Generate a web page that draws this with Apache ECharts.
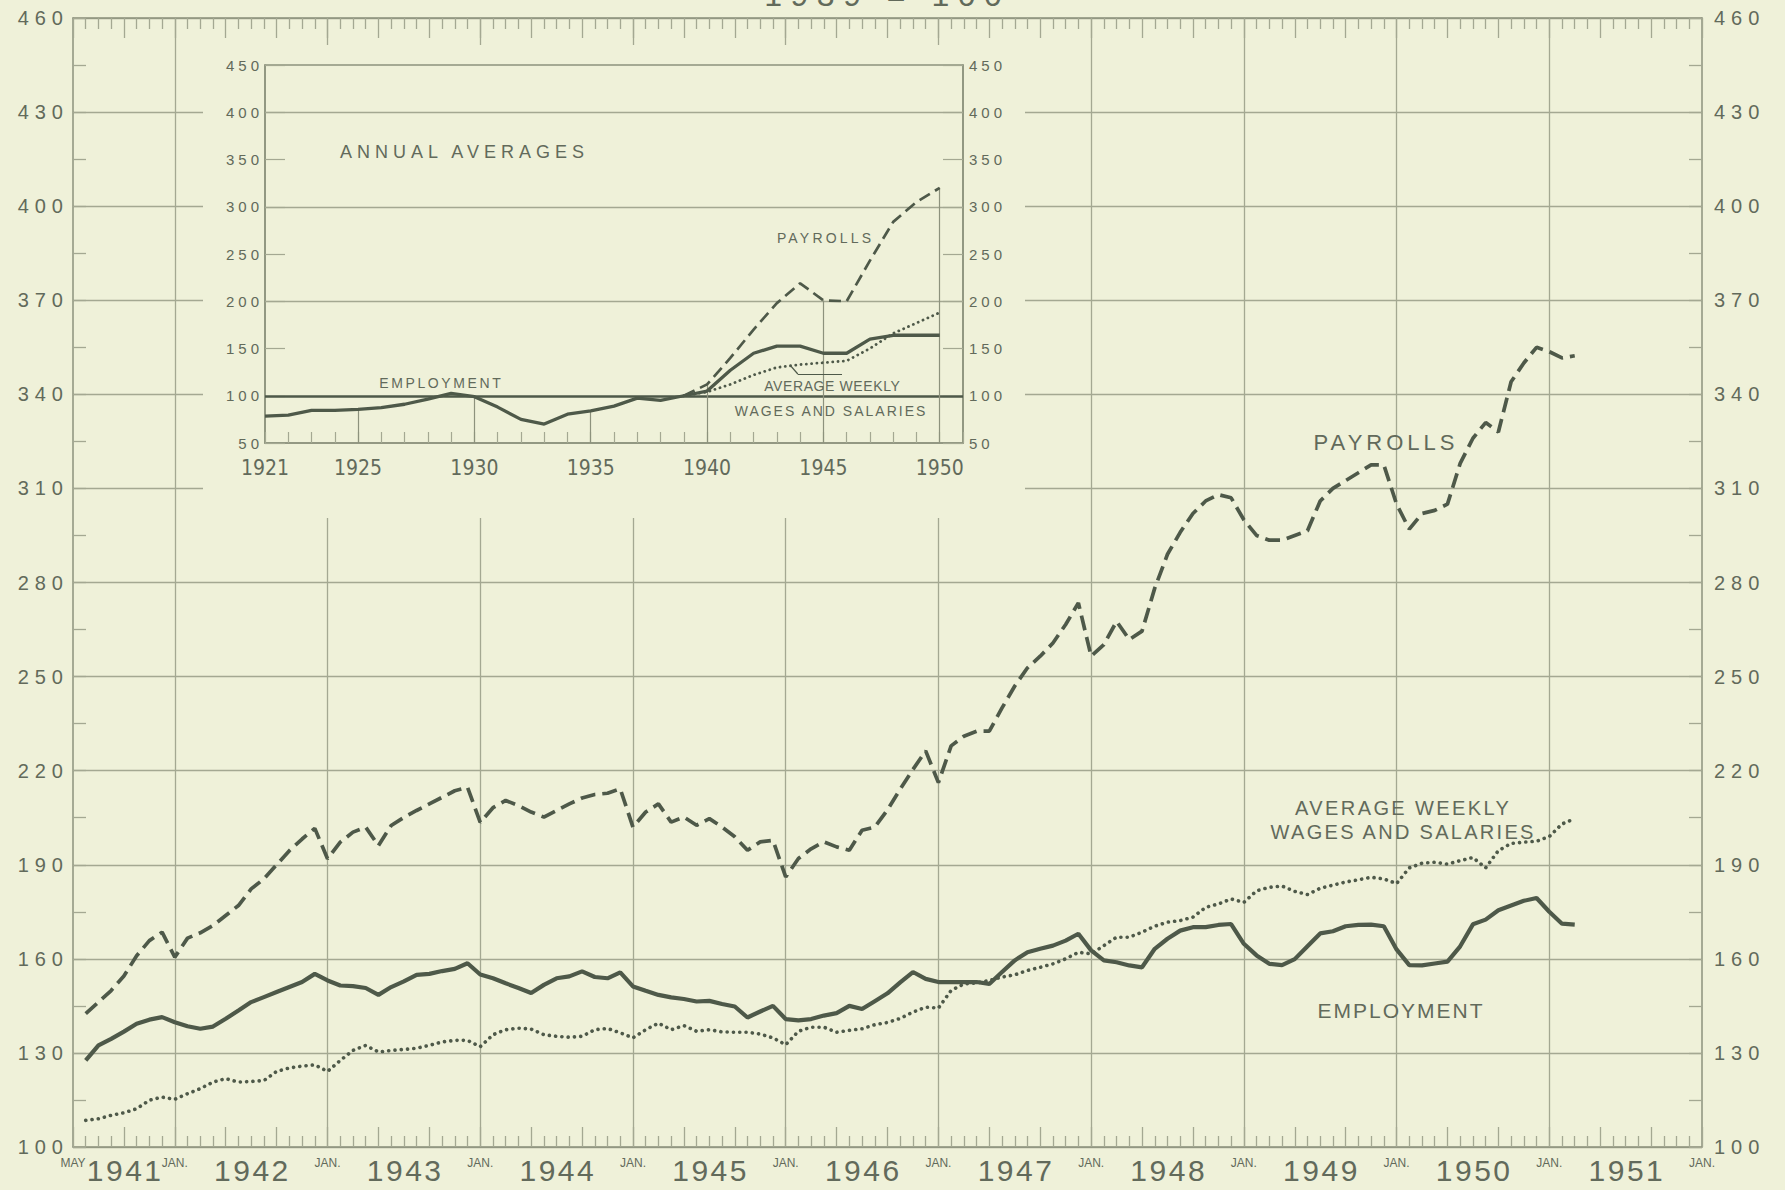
<!DOCTYPE html>
<html>
<head>
<meta charset="utf-8">
<title>Employment, Payrolls and Average Weekly Wages and Salaries (1939 = 100)</title>
<script src="https://cdn.jsdelivr.net/npm/echarts@6.0.0/dist/echarts.min.js"></script>
<style>
html,body{margin:0;padding:0;background:#eff1d9;}
#main{width:1785px;height:1190px;}
</style>
</head>
<body>
<div id="main"></div>
<script>
// ================= DATA =================
// Monthly index numbers, 1939 = 100.
// x position = months since Jan 1941; the first observation is June 1941.
const firstMonth = 5;

const payrolls = [
  142.5,146.2,149.9,154.5,161,165.8,168.5,160.5,
  166.6,168.3,170.6,173.8,177,182.3,185.5,190,194.5,198.2,201.6,191.9,
  197.2,200.4,202,196.1,202.5,205.1,207.3,209.4,211.5,213.6,214.7,203.5,
  208.2,210.5,208.9,206.8,205.2,207.3,209.4,211.3,212.4,212.8,214.2,202,
  206.8,209.4,203.6,205.2,202.6,204.7,202,198.9,194.6,197.3,197.8,186.1,
  192,195.1,197.3,195.7,194.6,201,202,207.5,214.1,220.4,226.3,216.2,
  227.9,231,232.6,232.6,240,247,252.8,256.5,260.7,266.6,273.5,256.5,
  260.2,267.6,261.8,264.5,278.2,289,296,302,306,308,307,300,
  295,293.5,293.5,295,296.5,306,310,312.5,315,317.5,317.5,305,
  297,302,303,305,318,326,331,328,344,350,355,353.6,
  351.6,352.3
];

const employment = [
  127.6,132.4,134.5,136.8,139.3,140.6,141.4,139.8,
  138.5,137.7,138.4,140.9,143.5,146.2,147.8,149.4,151,152.6,155.2,153.1,
  151.5,151.3,150.7,148.5,151,152.8,154.9,155.2,156.1,156.8,158.6,155,
  153.8,152.2,150.7,149.1,151.7,153.8,154.4,156,154.2,153.8,155.7,151.2,
  149.8,148.5,147.7,147.2,146.4,146.6,145.6,144.8,141.3,143.2,145,140.8,
  140.4,140.8,141.9,142.7,145,144,146.5,149,152.5,155.8,153.6,152.6,
  152.6,152.6,152.6,152,155.8,159.5,162.1,163.2,164.2,165.8,168,162.7,
  159.5,158.9,157.9,157.3,163.2,166.4,169,170.1,170.1,170.8,171.1,164.8,
  161.1,158.4,158,159.9,164,168.1,168.8,170.4,170.8,170.9,170.4,163,
  158,157.9,158.5,159.1,164,171,172.5,175.5,177,178.5,179.4,175,
  171.2,170.9
];

const avgWeeklyWages = [
  108.5,109,110.1,110.9,112.2,114.9,115.9,115.2,
  117,118.6,120.7,121.8,120.7,120.9,121.2,124.1,125.2,125.8,126.2,124.1,
  127.6,130.8,132.4,130.3,130.8,131.1,131.5,132.4,133.5,134,134,132,
  135.8,137.4,137.9,137.6,135.8,135.3,135,135.3,137.4,137.8,136.4,134.8,
  137.4,139.5,137.4,138.7,136.9,137.4,136.7,136.6,136.6,136,134.8,132.6,
  136.9,138.2,138.2,136.6,137.2,137.7,139,139.7,141,143,144.6,144.3,
  149.9,152,152.3,153.1,154.2,154.9,156.3,157.3,158.4,160,162.1,161.6,
  164.2,166.9,166.9,168.5,170.4,171.7,172.2,173.3,176.4,177.5,179.1,178,
  181.7,182.8,183.2,181.5,180.5,182.5,183.5,184.5,185.2,186,185.5,184,
  189,190.5,190.8,190.2,191.3,192.3,189,194.5,196.8,197.2,197.5,199,
  203,204.7
];

// Axis labels (main chart)
const yearLabels = ['1941','1942','1943','1944','1945','1946','1947','1948','1949','1950','1951'];
const yearLabelMonths = [8,18,30,42,54,66,78,90,102,114,126];
const janMonths = [12,24,36,48,60,72,84,96,108,120,132];
const janGridMonths = [12,24,36,48,60,72,84,96,108,120];
const mayMonth = 4;

// Inset: annual averages
const insetYears = [1921,1922,1923,1924,1925,1926,1927,1928,1929,1930,1931,1932,1933,1934,1935,
                    1936,1937,1938,1939,1940,1941,1942,1943,1944,1945,1946,1947,1948,1949,1950];
const insetEmployment = [78.5,79.5,84.5,84.5,85.5,87.5,91,96.5,102.5,99,88,75,70,80.5,84,
                         89,97.5,95,100,105,127,145,152.5,152.5,145,145,160,164,164,164];
const insetPayrollYears = [1939,1940,1941,1942,1943,1944,1945,1946,1947,1948,1949,1950];
const insetPayrolls = [100,112,140,170,198,219,201,200,243,284,305,320];
const insetAvgWeekly = [100,104,112,122,130,133,135,137,150,166,177,188];
const insetLabelYears = [1921,1925,1930,1935,1940,1945,1950];
const insetDropYears = [1925,1930,1935,1940,1945,1950];
const insetGridValues = [100,200,300,400];
const insetLeader = [[1943.6,131.5],[1943.9,123],[1945.8,123]];

// ================= STYLE =================
const BG = '#eff1d9';
const INK = '#4e5949';
const GRIDC = '#a4a892';
const AXISC = '#8d927d';
const TXT = '#626a5b';
const FONT = "'Liberation Sans', Arial, sans-serif";
const NARROW = "'Liberation Sans Narrow', 'DejaVu Sans Condensed', 'Liberation Sans', sans-serif";

const monthPairs = arr => arr.map((v, i) => [firstMonth + i, v]);
const yearPairs = (years, arr) => arr.map((v, i) => [years[i], v]);

function insetTop(y) {
  let m = -Infinity;
  const e = insetYears.indexOf(y); if (e >= 0) m = Math.max(m, insetEmployment[e]);
  const p = insetPayrollYears.indexOf(y);
  if (p >= 0) m = Math.max(m, insetPayrolls[p], insetAvgWeekly[p]);
  return m;
}

const chart = echarts.init(document.getElementById('main'), null, {renderer: 'svg', width: 1785, height: 1190});

const mainXCommon = {
  gridIndex: 0, type: 'value', min: 4, max: 132, interval: 4,
  axisLine: {show: true, lineStyle: {color: AXISC, width: 1.5}},
  axisTick: {show: true, inside: true, length: 20, lineStyle: {color: GRIDC, width: 1.3}},
  minorTick: {show: true, splitNumber: 4, length: 11, lineStyle: {color: GRIDC, width: 1.3}},
  splitLine: {show: false}
};

function txt(s, x, y, fs) {
  return {type: 'text', z: 10, silent: true, x: x, y: y,
    style: {text: s, font: fs + 'px ' + FONT, fill: TXT,
      align: 'center', verticalAlign: 'middle', textAlign: 'center', textVerticalAlign: 'middle'}};
}

const option = {
  animation: false,
  backgroundColor: BG,
  grid: [
    {left: 73, right: 83, top: 18, bottom: 43, show: false},
    {left: 265, top: 65, width: 698, height: 378, show: true, borderColor: AXISC, borderWidth: 1.5,
     backgroundColor: 'transparent', z: 2}
  ],
  xAxis: [
    Object.assign({}, mainXCommon, {
      position: 'bottom',
      axisLabel: {show: true, customValues: yearLabelMonths,
        formatter: v => yearLabels[yearLabelMonths.indexOf(v)],
        fontSize: 30, fontFamily: FONT, color: TXT, margin: 8}
    }),
    Object.assign({}, mainXCommon, {position: 'top', axisLabel: {show: false}}),
    {gridIndex: 0, type: 'value', position: 'bottom', min: 4, max: 132,
     axisLine: {show: false}, axisTick: {show: false}, splitLine: {show: false},
     axisLabel: {show: true, customValues: [mayMonth].concat(janMonths),
       formatter: v => (v === mayMonth ? 'MAY' : 'JAN.'),
       fontSize: 12, fontFamily: FONT, color: TXT, margin: 10}},
    {gridIndex: 1, type: 'value', min: 1921, max: 1951, interval: 1, z: 2,
     axisLine: {show: true, lineStyle: {color: AXISC, width: 1.5}},
     axisTick: {show: true, inside: true, length: 11, lineStyle: {color: GRIDC, width: 1.2}},
     splitLine: {show: false},
     axisLabel: {show: true, customValues: insetLabelYears, formatter: v => String(v),
       fontSize: 21, fontFamily: NARROW, color: TXT, margin: 14}}
  ],
  yAxis: [
    {gridIndex: 0, type: 'value', position: 'left', min: 100, max: 460, interval: 30,
     axisLine: {show: true, lineStyle: {color: AXISC, width: 1.5}},
     axisTick: {show: true, inside: true, length: 13, lineStyle: {color: GRIDC, width: 1.3}},
     minorTick: {show: true, splitNumber: 2, length: 13, lineStyle: {color: GRIDC, width: 1.3}},
     splitLine: {show: true, lineStyle: {color: GRIDC, width: 1.3}},
     axisLabel: {fontSize: 20, fontFamily: FONT, color: TXT, margin: 10}},
    {gridIndex: 0, type: 'value', position: 'right', min: 100, max: 460, interval: 30,
     axisLine: {show: true, lineStyle: {color: AXISC, width: 1.5}},
     axisTick: {show: true, inside: true, length: 13, lineStyle: {color: GRIDC, width: 1.3}},
     minorTick: {show: true, splitNumber: 2, length: 13, lineStyle: {color: GRIDC, width: 1.3}},
     splitLine: {show: false},
     axisLabel: {fontSize: 20, fontFamily: FONT, color: TXT, margin: 12}},
    {gridIndex: 1, type: 'value', position: 'left', min: 50, max: 450, interval: 50, z: 2,
     axisLine: {show: true, lineStyle: {color: AXISC, width: 1.5}},
     axisTick: {show: true, inside: true, length: 20, lineStyle: {color: GRIDC, width: 1.2}},
     splitLine: {show: false},
     axisLabel: {fontSize: 15, fontFamily: FONT, color: TXT, margin: 6}},
    {gridIndex: 1, type: 'value', position: 'right', min: 50, max: 450, interval: 50, z: 2,
     axisLine: {show: true, lineStyle: {color: AXISC, width: 1.5}},
     axisTick: {show: true, inside: true, length: 20, lineStyle: {color: GRIDC, width: 1.2}},
     splitLine: {show: false},
     axisLabel: {fontSize: 15, fontFamily: FONT, color: TXT, margin: 6}}
  ],
  series: [
    {name: 'Payrolls', type: 'line', xAxisIndex: 0, yAxisIndex: 0, data: monthPairs(payrolls),
     symbol: 'none', silent: true, z: 2,
     lineStyle: {color: INK, width: 3.7, type: [15, 7]}},
    {name: 'Employment', type: 'line', xAxisIndex: 0, yAxisIndex: 0, data: monthPairs(employment),
     symbol: 'none', silent: true, z: 2,
     lineStyle: {color: INK, width: 4.2},
     markLine: {silent: true, z: 0, symbol: ['none', 'none'], label: {show: false},
       lineStyle: {color: GRIDC, width: 1.3, type: 'solid'},
       data: janGridMonths.map(m => ({xAxis: m}))}},
    {name: 'Average weekly wages and salaries', type: 'line', xAxisIndex: 0, yAxisIndex: 0,
     data: monthPairs(avgWeeklyWages), symbol: 'none', silent: true, z: 2,
     lineStyle: {color: INK, width: 3.6, type: [0.1, 6.2], cap: 'round'}},
    // ---- inset ----
    {name: 'Employment (annual)', type: 'line', xAxisIndex: 3, yAxisIndex: 2,
     data: yearPairs(insetYears, insetEmployment), symbol: 'none', silent: true, z: 4,
     lineStyle: {color: INK, width: 3.3},
     markLine: {silent: true, z: 3, symbol: ['none', 'none'], label: {show: false},
       lineStyle: {color: GRIDC, width: 1.3, type: 'solid'},
       data: insetGridValues.map(v => ({yAxis: v,
               lineStyle: {color: v === 100 ? INK : GRIDC, width: v === 100 ? 2.6 : 1.3, type: 'solid'}}))
         .concat(insetDropYears.map(y => [
           {coord: [y, 50], lineStyle: {color: AXISC, width: 1.2, type: 'solid'}},
           {coord: [y, insetTop(y)]}]))}},
    {name: 'Payrolls (annual)', type: 'line', xAxisIndex: 3, yAxisIndex: 2,
     data: yearPairs(insetPayrollYears, insetPayrolls), symbol: 'none', silent: true, z: 4,
     lineStyle: {color: INK, width: 2.7, type: [12, 6]}},
    {name: 'Average weekly wages (annual)', type: 'line', xAxisIndex: 3, yAxisIndex: 2,
     data: yearPairs(insetPayrollYears, insetAvgWeekly), symbol: 'none', silent: true, z: 4,
     lineStyle: {color: INK, width: 2.8, type: [0.1, 5.2], cap: 'round'},
     markLine: {silent: true, z: 4, symbol: ['none', 'none'], label: {show: false},
       lineStyle: {color: INK, width: 1.2, type: 'solid'},
       data: [[{coord: insetLeader[0]}, {coord: insetLeader[1]}],
              [{coord: insetLeader[1]}, {coord: insetLeader[2]}]]}}
  ],
  graphic: {elements: [
    {type: 'rect', z: 1, silent: true, shape: {x: 203, y: 45, width: 822, height: 473}, style: {fill: BG}},
    txt('1939 = 100', 883, -5, 32),
    txt('PAYROLLS', 1384, 442, 22),
    txt('AVERAGE WEEKLY', 1402, 808, 20),
    txt('WAGES AND SALARIES', 1402, 832, 20),
    txt('EMPLOYMENT', 1400, 1010, 21),
    txt('ANNUAL AVERAGES', 462, 152, 18),
    txt('PAYROLLS', 824, 238, 14),
    txt('EMPLOYMENT', 440, 383, 14),
    txt('AVERAGE WEEKLY', 832, 386, 14),
    txt('WAGES AND SALARIES', 830, 411, 14)
  ]}
};

// Letter spacing like the original hand lettering (SVG renderer)
function spacingFor(t, fs) {
  if (t === 'PAYROLLS') return fs > 18 ? 4 : 3.2;
  if (t === 'AVERAGE WEEKLY') return fs > 18 ? 2.4 : 0.6;
  if (t === 'WAGES AND SALARIES') return fs > 18 ? 2.3 : 2.0;
  if (t === 'EMPLOYMENT') return fs > 18 ? 2 : 2.6;
  if (t === 'ANNUAL AVERAGES') return 5;
  if (t === '1939 = 100') return 8.5;
  if (/^\d+$/.test(t)) {
    if (Math.abs(fs - 20) < 0.5) return 6;
    if (Math.abs(fs - 30) < 0.5) return 2.5;
    if (Math.abs(fs - 15) < 0.5) return 4;
  }
  return 0;
}
function applySpacing() {
  document.querySelectorAll('#main svg text').forEach(el => {
    const t = (el.textContent || '').trim();
    const fs = parseFloat(getComputedStyle(el).fontSize);
    const ls = spacingFor(t, fs);
    if (ls && !el.getAttribute('data-ls')) {
      el.setAttribute('data-ls', '1');
      el.setAttribute('letter-spacing', ls);
      const a = el.getAttribute('text-anchor') || 'start';
      const shift = a === 'middle' ? ls / 2 : (a === 'end' ? ls : 0);
      if (shift) el.setAttribute('dx', shift);
    }
  });
}
chart.on('finished', applySpacing);
chart.setOption(option);
setTimeout(applySpacing, 30);
setTimeout(applySpacing, 300);
</script>
</body>
</html>
